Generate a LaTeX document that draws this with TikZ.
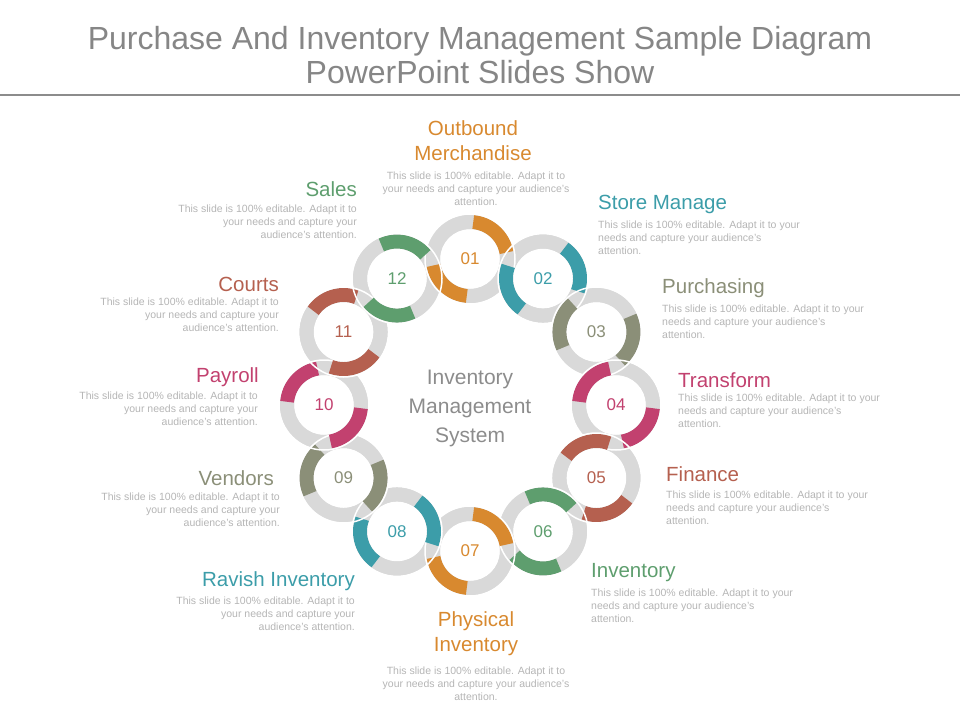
\documentclass[tikz,border=0pt]{standalone}
\usepackage{fontspec}
\setmainfont{Liberation Sans}
\definecolor{cA}{HTML}{D8892F}\definecolor{cB}{HTML}{3C9DA9}\definecolor{cC}{HTML}{8B8F78}
\definecolor{cD}{HTML}{C2416F}\definecolor{cE}{HTML}{B5604F}\definecolor{cF}{HTML}{5E9E6E}
\definecolor{ringgray}{HTML}{D9D9D9}\definecolor{bodygray}{HTML}{B5B5B5}
\begin{document}
\begin{tikzpicture}[x=1pt,y=-1pt,
  head/.style={font=\fontsize{20.5}{25}\selectfont,inner sep=0pt},
  body/.style={font=\fontsize{10.5}{13}\selectfont,text=bodygray,inner sep=0pt},
  num/.style={font=\fontsize{17}{18}\selectfont,inner sep=0pt}]
\useasboundingbox (0,0) rectangle (960,720);
\node[font=\fontsize{32}{34}\selectfont,text=gray!95,align=center,inner sep=0pt] (title) at (480,55) {Purchase And Inventory Management Sample Diagram\\PowerPoint Slides Show};
\draw[gray!90,line width=2.5pt] (0,95) -- (960,95);
% ring
\foreach \k/\c in {1/cA,2/cB,3/cC,4/cD,5/cE,6/cF,7/cA,8/cB,9/cC,10/cD,11/cE,12/cF}{
  \pgfmathsetmacro{\a}{90-30*(\k-1)}
  \coordinate (p\k) at ({470+146*cos(\a)},{405-146*sin(\a)});
  \draw[ringgray,line width=15pt] (p\k) circle[radius=37];
}
\foreach \k/\c in {1/cA,2/cB,3/cC,4/cD,5/cE,6/cF,7/cA,8/cB,9/cC,10/cD,11/cE,12/cF}{
  \pgfmathsetmacro{\a}{90-30*(\k-1)}
  \draw[\c,line width=14pt] (p\k) ++({-(\a-80)}:37) arc[start angle={-(\a-80)},end angle={-(\a-5)},radius=37];
  \draw[\c,line width=14pt] (p\k) ++({-(\a+100)}:37) arc[start angle={-(\a+100)},end angle={-(\a+175)},radius=37];
  \draw[white,line width=1.5pt] (p\k) circle[radius=29];
  \draw[white,line width=1.5pt] (p\k) circle[radius=45];
  \node[num,text=\c] (n\k) at (p\k) {\ifnum\k<10 0\fi\k};
}
\node[font=\fontsize{21}{29}\selectfont,text=gray!90,align=center] (center) at (470,408) {Inventory\\Management\\System};
% labels
\node[head,text=cA,align=center] (h1) at (473,141) {Outbound\\Merchandise};
\node[body,align=center] (b1) at (476,189) {This slide is 100\% editable.  Adapt it to\\your needs and capture your audience's\\attention.};
\node[head,text=cB,anchor=west] (h2) at (598,204) {Store Manage};
\node[body,align=left,anchor=north west] (b2) at (598,221) {This slide is 100\% editable.  Adapt it to your\\needs and capture your audience's\\attention.};
\node[head,text=cC,anchor=west] (h3) at (662,288) {Purchasing};
\node[body,align=left,anchor=north west] (b3) at (662,305) {This slide is 100\% editable.  Adapt it to your\\needs and capture your audience's\\attention.};
\node[head,text=cD,anchor=west] (h4) at (678,380) {Transform};
\node[body,align=left,anchor=north west] (b4) at (678,394) {This slide is 100\% editable.  Adapt it to your\\needs and capture your audience's\\attention.};
\node[head,text=cE,anchor=west] (h5) at (666,474) {Finance};
\node[body,align=left,anchor=north west] (b5) at (666,491) {This slide is 100\% editable.  Adapt it to your\\needs and capture your audience's\\attention.};
\node[head,text=cF,anchor=west] (h6) at (591,573) {Inventory};
\node[body,align=left,anchor=north west] (b6) at (591,589) {This slide is 100\% editable.  Adapt it to your\\needs and capture your audience's\\attention.};
\node[head,text=cA,align=center] (h7) at (476,634) {Physical\\Inventory};
\node[body,align=center] (b7) at (476,684) {This slide is 100\% editable.  Adapt it to\\your needs and capture your audience's\\attention.};
\node[head,text=cB,anchor=east] (h8) at (355,581) {Ravish Inventory};
\node[body,align=right,anchor=north east] (b8) at (355,597) {This slide is 100\% editable.  Adapt it to\\your needs and capture your\\audience's attention.};
\node[head,text=cC,anchor=east] (h9) at (274,478) {Vendors};
\node[body,align=right,anchor=north east] (b9) at (280,493) {This slide is 100\% editable.  Adapt it to\\your needs and capture your\\audience's attention.};
\node[head,text=cD,anchor=east] (h10) at (259,377) {Payroll};
\node[body,align=right,anchor=north east] (b10) at (258,392) {This slide is 100\% editable.  Adapt it to\\your needs and capture your\\audience's attention.};
\node[head,text=cE,anchor=east] (h11) at (279,284) {Courts};
\node[body,align=right,anchor=north east] (b11) at (279,298) {This slide is 100\% editable.  Adapt it to\\your needs and capture your\\audience's attention.};
\node[head,text=cF,anchor=east] (h12) at (357,189) {Sales};
\node[body,align=right,anchor=north east] (b12) at (357,205) {This slide is 100\% editable.  Adapt it to\\your needs and capture your\\audience's attention.};
\end{tikzpicture}
\end{document}
